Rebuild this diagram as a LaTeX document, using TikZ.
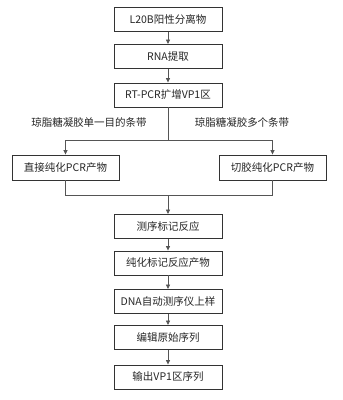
\documentclass[tikz,border=0pt]{standalone}
\usepackage{fontspec}
\setmainfont{Noto Sans CJK SC}
\usepackage{tikz}
\usetikzlibrary{arrows.meta,positioning}
\definecolor{boxline}{HTML}{333333}
\definecolor{linkline}{HTML}{555555}
\tikzset{
  stepbox/.style={draw=boxline, line width=0.9pt, fill=white, minimum width=108pt, minimum height=24pt, inner sep=0pt, align=center, font=\fontsize{10.5}{12}\selectfont, text=black!85},
  sidebox/.style={stepbox, minimum width=107pt, minimum height=25pt},
  branch/.style={inner sep=0pt, font=\fontsize{10.5}{12}\selectfont, text=black!85},
  link/.style={draw=linkline, line width=0.7pt},
  flow/.style={link, -{Triangle[length=4.5pt,width=4pt]}}
}

\begin{document}
\begin{tikzpicture}[x=1pt,y=-1pt]
  \useasboundingbox (0,0) rectangle (343,400);

  \node[stepbox] (l20b) at (168,19.5) {L20B阳性分离物};
  \node[stepbox] (rna) at (168,56.5) {RNA提取};
  \node[stepbox] (rtpcr) at (168,95) {RT-PCR扩增VP1区};

  \node[branch] (single) at (89,123) {琼脂糖凝胶单一目的条带};
  \node[branch] (multi) at (242,123) {琼脂糖凝胶多个条带};

  \node[sidebox] (direct) at (65.5,167.5) {直接纯化PCR产物};
  \node[sidebox] (cutgel) at (272.5,167.5) {切胶纯化PCR产物};

  \node[stepbox] (seqlabel) at (168,226.5) {测序标记反应};
  \node[stepbox] (purify) at (168,263) {纯化标记反应产物};
  \node[stepbox] (loading) at (168,301.5) {DNA自动测序仪上样};
  \node[stepbox] (edit) at (168,337.5) {编辑原始序列};
  \node[stepbox] (output) at (168,377) {输出VP1区序列};

  \coordinate (split) at (168,140);
  \coordinate (merge) at (168,195);

  \draw[flow] (l20b) -- (rna);
  \draw[flow] (rna) -- (rtpcr);
  \draw[link] (rtpcr.south) -- (split);
  \draw[flow] (split) -| (direct.north);
  \draw[flow] (split) -| (cutgel.north);
  \draw[link] (direct.south) |- (merge);
  \draw[link] (cutgel.south) |- (merge);
  \draw[flow] (merge) -- (seqlabel.north);
  \draw[flow] (seqlabel) -- (purify);
  \draw[flow] (purify) -- (loading);
  \draw[flow] (loading) -- (edit);
  \draw[flow] (edit) -- (output);
\end{tikzpicture}
\end{document}
